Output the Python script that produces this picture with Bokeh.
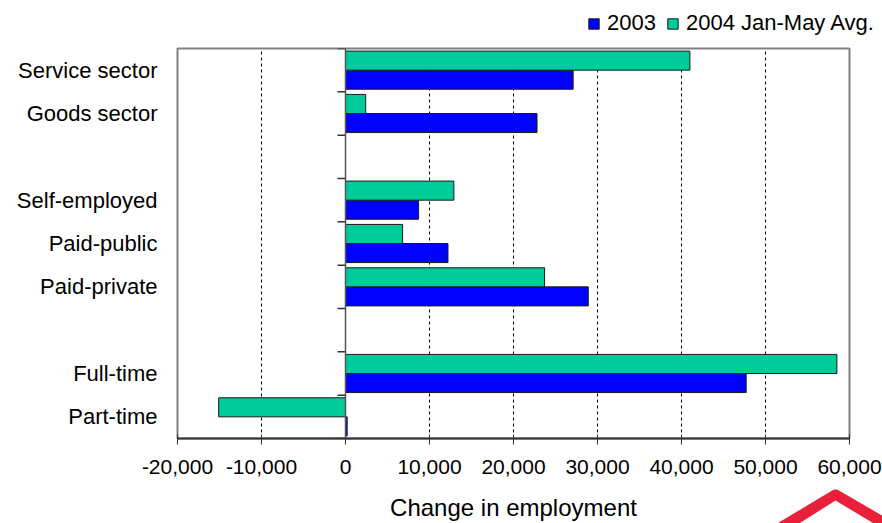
from bokeh.plotting import figure
from bokeh.layouts import column, row
from bokeh.models import (FixedTicker, NumeralTickFormatter, Span, Legend, LegendItem,
                          ColumnDataSource)
from bokeh.core.properties import value
from bokeh.embed import file_html
from bokeh.resources import INLINE

# ---- data ----
categories = ["Service sector", "Goods sector", "Self-employed", "Paid-public",
              "Paid-private", "Full-time", "Part-time"]
slots = [8, 7, 5, 4, 3, 1, 0]          # row positions (blank rows at 6 and 2)
values_2003 = [27100, 22800, 8700, 12200, 28900, 47700, 200]
values_2004 = [41000, 2400, 12900, 6800, 23700, 58500, -15100]
x_ticks = [-20000, -10000, 0, 10000, 20000, 30000, 40000, 50000, 60000]
row_bounds = [-0.5, 0.5, 1.5, 2.5, 3.5, 4.5, 5.5, 6.5, 7.5, 8.5]
series_labels = ["2003", "2004 Jan-May Avg."]
x_title = "Change in employment"

BLUE = "#0000FF"
GREEN = "#00CC99"
FONT = "Liberation Sans"
BAR_H = 0.44
OFF = 0.22


def bare_fig(w, h, xr, yr):
    fig = figure(width=w, height=h, output_backend="svg", toolbar_location=None,
                 x_range=xr, y_range=yr, min_border=0,
                 x_axis_location=None, y_axis_location=None)
    fig.grid.visible = False
    fig.outline_line_color = None
    fig.background_fill_color = "white"
    fig.border_fill_color = "white"
    return fig


# ---------- legend strip (top) ----------
leg_fig = bare_fig(882, 46, (0, 882), (0, 46))
lr03 = leg_fig.hbar(y=[-100], right=[1], height=1, fill_color=BLUE, line_color="#1a1a1a")
lr04 = leg_fig.hbar(y=[-100], right=[1], height=1, fill_color=GREEN, line_color="#1a1a1a")
legend = Legend(items=[LegendItem(label=series_labels[0], renderers=[lr03]),
                       LegendItem(label=series_labels[1], renderers=[lr04])],
                orientation="horizontal", location=(587, 10),
                glyph_width=13, glyph_height=13, label_standoff=7, spacing=10,
                padding=0, margin=0, border_line_color=None,
                background_fill_alpha=0,
                label_text_font=FONT, label_text_font_size="22px",
                label_text_color="black")
leg_fig.add_layout(legend)

# ---------- main chart ----------
src03 = ColumnDataSource(dict(y=[s - OFF for s in slots], right=values_2003))
src04 = ColumnDataSource(dict(y=[s + OFF for s in slots], right=values_2004))

p = figure(width=882, height=443, output_backend="svg", toolbar_location=None,
           x_range=(-20000, 60000), y_range=(-0.5, 8.5),
           min_border_left=177, min_border_right=33, min_border_top=2, min_border_bottom=51)
p.background_fill_color = "white"
p.border_fill_color = "white"
p.outline_line_color = "#808080"
p.outline_line_width = 2

p.ygrid.visible = False
p.xgrid.ticker = FixedTicker(ticks=x_ticks)
p.xgrid.grid_line_color = "black"
p.xgrid.grid_line_dash = "3 3"
p.xgrid.grid_line_width = 1

p.hbar(y="y", left=0, right="right", height=BAR_H, source=src03,
       fill_color=BLUE, line_color="#1a1a1a", line_width=1)
p.hbar(y="y", left=0, right="right", height=BAR_H, source=src04,
       fill_color=GREEN, line_color="#1a1a1a", line_width=1)

p.add_layout(Span(location=0, dimension="height", line_color="#555555", line_width=1.5))
p.segment(x0=[-950] * len(row_bounds), x1=[0] * len(row_bounds),
          y0=row_bounds, y1=row_bounds, line_color="#333333", line_width=1.5)

xa = p.xaxis[0]
xa.ticker = FixedTicker(ticks=x_ticks)
xa.formatter = NumeralTickFormatter(format="0,0")
xa.major_tick_in = 4
xa.major_tick_out = 6
xa.minor_tick_line_color = None
xa.axis_line_color = "#333333"
xa.axis_line_width = 2
xa.major_tick_line_color = "#333333"
xa.major_label_text_font = FONT
xa.major_label_text_font_size = "21px"
xa.major_label_text_color = "black"
xa.major_label_standoff = 15

ya = p.yaxis[0]
ya.ticker = FixedTicker(ticks=slots)
ya.major_label_overrides = {s: c for s, c in zip(slots, categories)}
ya.axis_line_color = None
ya.major_tick_line_color = None
ya.minor_tick_line_color = None
ya.major_label_text_font = FONT
ya.major_label_text_font_size = "22px"
ya.major_label_text_color = "black"
ya.major_label_standoff = 14

# ---------- bottom strip: axis title + logo ----------
title_fig = bare_fig(770, 34, (0, 770), (34, 0))
title_fig.text(x=[513], y=[18], text=[x_title], text_align="center",
               text_baseline="alphabetic", text_font=value(FONT),
               text_font_size="24px", text_color="black")

logo_fig = bare_fig(112, 34, (0, 112), (34, 0))
logo_fig.patch(x=[5, 65, 127, 105, 65, 27], y=[35, -1, 35, 35, 11, 35],
               fill_color="#E8203A", line_color=None)

layout = column(row(leg_fig), p, row(title_fig, logo_fig))
open("out.html", "w").write(file_html(layout, INLINE))
